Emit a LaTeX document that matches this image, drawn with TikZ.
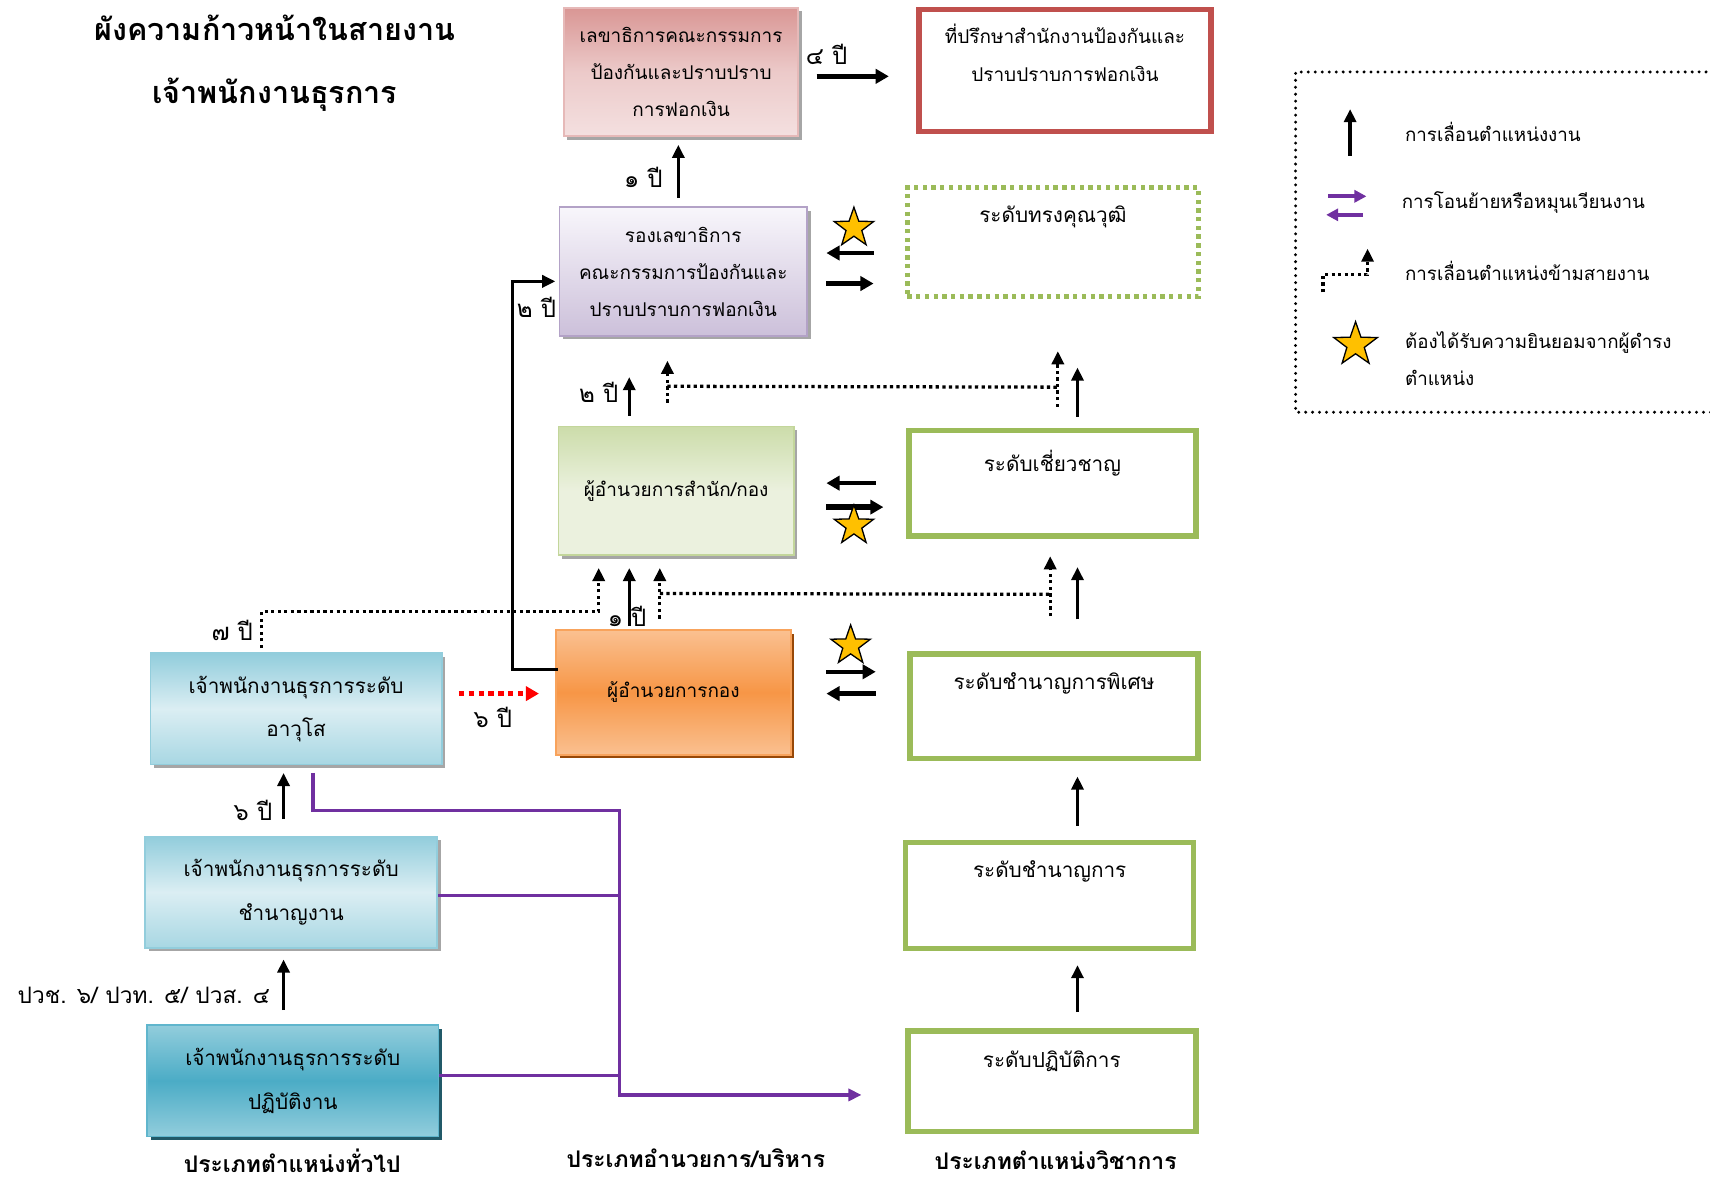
\documentclass[tikz,border=0pt]{standalone}
\usepackage{fontspec}
\setmainfont[Script=Thai]{Loma}
\usetikzlibrary{arrows.meta,shadows,shapes.geometric,calc}
\definecolor{pinkD}{HTML}{D99694}
\definecolor{pinkL}{HTML}{F4E0E0}
\definecolor{pinkB}{HTML}{E6B9B8}
\definecolor{redB}{HTML}{C0504D}
\definecolor{purB}{HTML}{B3A2C7}
\definecolor{purD}{HTML}{CCC0DA}
\definecolor{purL}{HTML}{F8F6FB}
\definecolor{grnL}{HTML}{EBF1DE}
\definecolor{grnD}{HTML}{C3D69B}
\definecolor{grnB}{HTML}{9BBB59}
\definecolor{orD}{HTML}{F79646}
\definecolor{orL}{HTML}{FAC090}
\definecolor{orS}{HTML}{984807}
\definecolor{bluL}{HTML}{DBEEF3}
\definecolor{bluD}{HTML}{92CDDC}
\definecolor{tealD}{HTML}{4BACC6}
\definecolor{tealS}{HTML}{215968}
\definecolor{purLine}{HTML}{7030A0}
\definecolor{starY}{HTML}{FFC000}
\definecolor{shadowG}{HTML}{A6A6A6}
\newcommand\bxfont{\fontsize{8.7}{17}\selectfont}
\newcommand\bxfontb{\fontsize{9.5}{20}\selectfont}
\newcommand\lblfont{\fontsize{11}{13}\selectfont}
\tikzset{
  x=0.5pt, y=-0.5pt,
  box/.style={inner sep=0pt, align=center, font=\bxfont},
  gshadow/.style={drop shadow={shadow xshift=1.6pt, shadow yshift=-1.6pt, fill=shadowG, opacity=1}},
  pinkbox/.style={box, gshadow, draw=pinkB, line width=0.8pt, top color=pinkD, bottom color=pinkL, middle color=pinkL!70!pinkD},
  purbox/.style={box, gshadow, draw=purB, line width=0.8pt, top color=purL, bottom color=purD},
  lgrnbox/.style={box, gshadow, draw=grnD, line width=0.8pt, top color=grnD!85, bottom color=grnL, middle color=grnL},
  orbox/.style={box, drop shadow={shadow xshift=1.6pt, shadow yshift=-1.6pt, fill=orS, opacity=1}, draw=orD!70!orL, line width=0.8pt, top color=orL, bottom color=orL, middle color=orD},
  blubox/.style={box, font=\bxfontb, gshadow, draw=bluD, line width=0.8pt, top color=bluD, bottom color=bluD!80, middle color=bluL},
  tealbox/.style={box, font=\bxfontb, drop shadow={shadow xshift=1.6pt, shadow yshift=-1.6pt, fill=tealS, opacity=1}, draw=tealD!70!bluD, line width=0.8pt, top color=bluD, bottom color=bluD, middle color=tealD},
  grnbox/.style={draw=grnB, line width=2.5pt, fill=white, inner sep=0pt},
  redbox/.style={draw=redB, line width=2.5pt, fill=white, inner sep=0pt},
  tqbox/.style={draw=grnB, line width=2pt, dash pattern=on 2pt off 2pt, inner sep=0pt},
  intxt/.style={anchor=north, inner sep=0pt, align=center, font=\bxfontb},
  lbl/.style={inner sep=0pt, font=\lblfont},
  catlbl/.style={inner sep=0pt, font=\fontsize{10.5}{12}\selectfont\bfseries},
  uparrow/.style={line width=1.5pt, -{Triangle[length=6pt,width=5.5pt]}},
  harrow/.style={line width=2pt, -{Triangle[length=6pt,width=6.5pt]}},
  dotarrow/.style={line width=1.5pt, dash pattern=on 1.5pt off 1.5pt, -{Triangle[length=6pt,width=5.5pt]}},
  dotline/.style={line width=1.5pt, dash pattern=on 1.5pt off 1.5pt},
  reddot/.style={red, line width=2pt, dash pattern=on 2.5pt off 2pt, -{Triangle[length=6pt,width=6.5pt]}},
  purline/.style={purLine, line width=1.5pt},
  stari/.style={star, star points=5, star point ratio=2.5, draw=black, line width=0.6pt, fill=starY, minimum size=19pt, inner sep=0pt},
  legtxt/.style={anchor=west, inner sep=0pt, align=left, font=\fontsize{8.6}{17}\selectfont},
}
\begin{document}
\begin{tikzpicture}
\useasboundingbox (0,0) rectangle (1568,1086);
% title
\node[inner sep=0pt, align=center, font=\fontsize{14}{29}\selectfont\bfseries] (title) at (252,58) {ผังความก้าวหน้าในสายงาน\\เจ้าพนักงานธุรการ};

% management column
\node[pinkbox, minimum width=107.5pt, minimum height=59pt] (sec) at (624.5,66) {เลขาธิการคณะกรรมการ\\ป้องกันและปราบปราบ\\การฟอกเงิน};
\node[redbox, minimum width=134pt, minimum height=56pt] (adv) at (976.5,64.5) {};
\node[intxt, font=\bxfont] (advt) at ($(adv.north)+(0,16)$) {ที่ปรึกษาสำนักงานป้องกันและ\\ปราบปราบการฟอกเงิน};
\node[purbox, minimum width=113.5pt, minimum height=59pt] (dep) at (626.5,249) {รองเลขาธิการ\\คณะกรรมการป้องกันและ\\ปราบปราบการฟอกเงิน};
\node[tqbox, minimum width=133.5pt, minimum height=50pt] (tq) at (965.5,222) {};
\node[intxt] (tqt) at ($(tq.north)+(0,18)$) {ระดับทรงคุณวุฒิ};
\node[lgrnbox, minimum width=108pt, minimum height=59pt] (dirbur) at (620,450) {ผู้อำนวยการสำนัก/กอง};
\node[grnbox, minimum width=131.5pt, minimum height=48.5pt] (exp) at (965,443) {};
\node[intxt] (expt) at ($(exp.north)+(0,20)$) {ระดับเชี่ยวชาญ};
\node[orbox, minimum width=107.5pt, minimum height=57pt] (dirdiv) at (617.5,635) {ผู้อำนวยการกอง};
\node[grnbox, minimum width=132pt, minimum height=48pt] (sp) at (966.5,647.5) {};
\node[intxt] (spt) at ($(sp.north)+(0,19)$) {ระดับชำนาญการพิเศษ};
\node[grnbox, minimum width=132pt, minimum height=48.5pt] (pro) at (962.5,821) {};
\node[intxt] (prot) at ($(pro.north)+(0,19)$) {ระดับชำนาญการ};
\node[grnbox, minimum width=132pt, minimum height=46pt] (pra) at (964.5,991.5) {};
\node[intxt] (prat) at ($(pra.north)+(0,20)$) {ระดับปฏิบัติการ};

% general column
\node[blubox, minimum width=133.5pt, minimum height=51pt] (sen) at (271.5,650) {เจ้าพนักงานธุรการระดับ\\อาวุโส};
\node[blubox, minimum width=134pt, minimum height=51pt] (ex) at (267,818) {เจ้าพนักงานธุรการระดับ\\ชำนาญงาน};
\node[tealbox, minimum width=133.5pt, minimum height=51pt] (op) at (268.5,991) {เจ้าพนักงานธุรการระดับ\\ปฏิบัติงาน};

% secretary -> adviser
\draw[harrow, line width=2.4pt] ($(sec.east)+(16,4)$) -- ($(adv.west)+(-25,5.5)$);
\node[lbl] (l4) at (758,50) {๔ ปี};
% deputy -> secretary
\draw[uparrow] ($(dep.north)+(-4.5,-8)$) -- ($(sec.south)+(-2.5,7)$);
\node[lbl] (l1a) at (590,163) {๑ ปี};
% deputy <-> tq
\node[stari] (st1) at (783,209) {};
\draw[harrow] ($(tq.west)+(-29,10)$) -- ($(dep.east)+(17,-17)$);
\draw[harrow] ($(dep.east)+(17,11)$) -- ($(tq.west)+(-29,38)$);
% director of division -> deputy
\draw[line width=1.5pt, -{Triangle[length=6pt,width=5.5pt]}] ($(dirdiv.west)+(2,-21)$) -- +(-41,0) |- ($(dep.west)+(-3,9)$);
\node[lbl] (l2a) at (492,282) {๒ ปี};
% bureau -> deputy
\draw[uparrow] ($(dirbur.north)+(-43,-9)$) -- ($(dep.south)+(-49.5,37)$);
\node[lbl] (l2b) at (549,360) {๒ ปี};
\draw[dotarrow] ($(dirbur.north)+(-8,-21)$) -- ($(dep.south)+(-14.5,22)$);
\draw[dotline] ($(dirbur.north)+(-8,-36)$) -- ($(exp.north)+(5,-37)$);
\draw[dotarrow] ($(exp.north)+(5,-19)$) -- ($(tq.south)+(4.5,48)$);
\draw[uparrow] ($(exp.north)+(23,-10)$) -- ($(tq.south)+(22.5,63)$);
% bureau <-> expert
\draw[harrow] ($(exp.west)+(-28,0)$) -- ($(dirbur.east)+(29,-7)$);
\draw[harrow, line width=2.6pt] ($(dirbur.east)+(29,15)$) -- ($(exp.west)+(-21,22)$);
\node[stari] (st2) at (783,482) {};
% division -> bureau
\draw[uparrow] ($(dirdiv.north)+(-40.5,-3)$) -- ($(dirbur.south)+(-43,11)$);
\draw[dotarrow] ($(dirdiv.north)+(-12.5,-10)$) -- ($(dirbur.south)+(-15,11)$);
\draw[dotline] ($(dirdiv.north)+(-12.5,-33)$) -- ($(sp.north)+(-3.5,-52)$);
\draw[dotarrow] ($(sp.north)+(-3.5,-32)$) -- ($(exp.south)+(-2,16)$);
\draw[uparrow] ($(sp.north)+(21.5,-29)$) -- ($(exp.south)+(23,26)$);
\draw[dotarrow] ($(sen.north)+(-31.5,-4)$) |- ($(dirbur.south)+(-71,51)$) -- ($(dirbur.south)+(-71,11)$);
\node[lbl] (l7) at (213,578) {๗ ปี};
\node[lbl] (l1b) at (575,565) {๑ ปี};
% division <-> special expert
\node[stari] (st3) at (780,592) {};
\draw[harrow] ($(dirdiv.east)+(32,-19)$) -- ($(sp.west)+(-29,-31.5)$);
\draw[harrow] ($(sp.west)+(-29,-11.5)$) -- ($(dirdiv.east)+(32,1)$);
% senior -> division
\draw[reddot] ($(sen.east)+(15,-14)$) -- ($(dirdiv.west)+(-15,1)$);
\node[lbl] (l6a) at (452,658) {๖ ปี};
% general column promotions
\draw[uparrow] ($(ex.north)+(-7,-15)$) -- ($(sen.south)+(-11.5,7)$);
\node[lbl] (l6b) at (232,743) {๖ ปี};
\draw[uparrow] ($(op.north)+(-8.5,-13)$) -- ($(ex.south)+(-7,10)$);
\node[lbl, anchor=east, font=\fontsize{10.4}{12}\selectfont] (ledu) at (248,913) {ปวช. ๖/ ปวท. ๕/ ปวส. ๔};
% purple transfer lines
\draw[purline, -{Triangle[length=6pt,width=5.5pt]}] ($(sen.south)+(15.5,7)$) |- (568,743) coordinate (j1) -- (568,1004) coordinate (j2) -- ($(pra.west)+(-40,12.5)$);
\draw[purline] ([yshift=-1.5pt]ex.east) coordinate (q1) -- (q1 -| j1);
\draw[purline] ([yshift=2.5pt]op.east) coordinate (q2) -- (q2 -| j1);
% academic column
\draw[uparrow] ($(pro.north)+(25.5,-13)$) -- ($(sp.south)+(21.5,14)$);
\draw[uparrow] ($(pra.north)+(23.5,-15)$) -- ($(pro.south)+(25.5,13)$);

% category labels
\node[catlbl] (c1) at (268,1064) {ประเภทตำแหน่งทั่วไป};
\node[catlbl] (c2) at (638,1062) {ประเภทอำนวยการ/บริหาร};
\node[catlbl] (c3) at (968,1064) {ประเภทตำแหน่งวิชาการ};

% legend
\draw[line width=1.5pt, line cap=round, dash pattern=on 0pt off 3.2pt] (1590,66) -- (1188,66) -- (1188,378) -- (1590,378);
\coordinate (g1a) at (1238,143); \coordinate (g1b) at (1238,100);
\draw[uparrow] (g1a) -- (g1b);
\node[legtxt] (g1t) at (1288,121) {การเลื่อนตำแหน่งงาน};
\coordinate (g2a) at (1218,180); \coordinate (g2b) at (1253,180);
\coordinate (g2c) at (1250,197); \coordinate (g2d) at (1216,197);
\draw[purLine, line width=2pt, -{Triangle[length=5.5pt,width=5.5pt]}] (g2a) -- (g2b);
\draw[purLine, line width=2pt, -{Triangle[length=5.5pt,width=5.5pt]}] (g2c) -- (g2d);
\node[legtxt] (g2t) at (1285,186) {การโอนย้ายหรือหมุนเวียนงาน};
\coordinate (g3a) at (1213,268); \coordinate (g3b) at (1254,228);
\draw[dotarrow] (g3a) |- ($(g3b)+(0,24)$) -- (g3b);
\node[legtxt] (g3t) at (1288,248) {การเลื่อนตำแหน่งข้ามสายงาน};
\node[stari, minimum size=21pt] (g4) at (1243,316) {};
\node[legtxt] (g4t) at (1288,329) {ต้องได้รับความยินยอมจากผู้ดำรง\\ตำแหน่ง};
\end{tikzpicture}
\end{document}
